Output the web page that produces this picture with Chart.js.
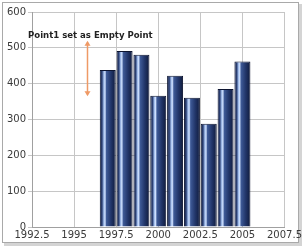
<!DOCTYPE html>
<html>
<head>
<meta charset="utf-8">
<script src="https://cdn.jsdelivr.net/npm/chart.js@4/dist/chart.umd.min.js"></script>
<style>
  html, body { margin:0; padding:0; background:#fff; }
  canvas { display:block; }
</style>
</head>
<body>
<canvas id="chart" width="304" height="248"></canvas>
<script>
// years and values (1996 is the "empty point")
const years = [1996, 1997, 1998, 1999, 2000, 2001, 2002, 2003, 2004, 2005];
const values = [null, 438, 491, 481, 366, 422, 361, 288, 385, 462];
const xTicks = [1992.5, 1995, 1997.5, 2000, 2002.5, 2005, 2007.5];
const yTicks = [0, 100, 200, 300, 400, 500, 600];
const note = 'Point1 set as Empty Point';

const FONT = 'DejaVu Sans';

// horizontal gradient for each bar, built from the x scale
function barFill(ctx){
  const chart = ctx.chart;
  const sx = chart.scales.x;
  if(!sx || !ctx.raw) return '#1f3266';
  const l = sx.getPixelForValue(ctx.raw.x - 0.475);
  const r = sx.getPixelForValue(ctx.raw.x + 0.475);
  if(!isFinite(l) || !isFinite(r)) return '#1f3266';
  const g = chart.ctx.createLinearGradient(l, 0, r, 0);
  g.addColorStop(0, '#17244a');
  g.addColorStop(0.14, '#2a3f74');
  g.addColorStop(0.26, '#a6c2f0');
  g.addColorStop(0.33, '#cfe0fd');
  g.addColorStop(0.42, '#3e5a97');
  g.addColorStop(0.7, '#22366a');
  g.addColorStop(1, '#0f1a3a');
  return g;
}

// frame around the whole chart
const framePlugin = {
  id: 'frame',
  beforeDraw(chart){
    const c = chart.ctx;
    c.save();
    c.fillStyle = '#fff';
    c.fillRect(0, 0, chart.width, chart.height);
    c.fillStyle = '#d4d4d4';
    c.fillRect(4, 4, 298, 242);
    c.fillStyle = '#fff';
    c.fillRect(2, 2, 297, 241);
    c.strokeStyle = '#a9a9a9';
    c.lineWidth = 1;
    c.strokeRect(2.5, 2.5, 296, 240);
    c.restore();
  }
};

// empty point note with double arrow
const notePlugin = {
  id: 'note',
  afterDraw(chart){
    const c = chart.ctx;
    const sx = chart.scales.x, sy = chart.scales.y;
    const ax = Math.round(sx.getPixelForValue(1995.75)) + 0.5;
    const top = sy.getPixelForValue(520), bot = sy.getPixelForValue(365);
    c.save();
    c.strokeStyle = '#ef9a66';
    c.fillStyle = '#ef9a66';
    c.lineWidth = 1.5;
    c.beginPath(); c.moveTo(ax, top + 2); c.lineTo(ax, bot - 2); c.stroke();
    c.beginPath(); c.moveTo(ax - 3, top + 5); c.lineTo(ax, top); c.lineTo(ax + 3, top + 5); c.closePath(); c.fill();
    c.beginPath(); c.moveTo(ax - 3, bot - 5); c.lineTo(ax, bot); c.lineTo(ax + 3, bot - 5); c.closePath(); c.fill();
    c.font = 'bold 9.5px "DejaVu Sans Condensed", ' + FONT;
    c.fillStyle = '#222';
    c.textAlign = 'left';
    c.textBaseline = 'middle';
    c.fillText(note, 28, 36);
    c.restore();
  }
};

new Chart(document.getElementById('chart'), {
  type: 'bar',
  data: {
    datasets: [{
      data: years.map((y, i) => ({ x: y, y: values[i] })),
      backgroundColor: barFill,
      borderColor: '#0c1430',
      borderWidth: 1,
      barPercentage: 0.95,
      categoryPercentage: 1
    }]
  },
  options: {
    responsive: false,
    animation: false,
    layout: { padding: { left: 0, top: 12, right: 19, bottom: 0 } },
    plugins: { legend: { display: false }, tooltip: { enabled: false } },
    scales: {
      x: {
        type: 'linear',
        offset: false,
        min: xTicks[0], max: xTicks[xTicks.length - 1],
        afterBuildTicks: s => { s.ticks = xTicks.map(v => ({ value: v })); },
        afterFit: s => { s.height = 21; },
        grid: { color: '#c6c6c6', offset: false, tickLength: 0, drawTicks: false },
        border: { color: '#a0a0a0' },
        ticks: { callback: v => String(v), color: '#3a3a3a', padding: 2, maxRotation: 0, autoSkip: false,
                 font: { family: FONT, size: 10 } }
      },
      y: {
        min: yTicks[0], max: yTicks[yTicks.length - 1],
        afterBuildTicks: s => { s.ticks = yTicks.map(v => ({ value: v })); },
        afterFit: s => { s.width = 32; },
        grid: { color: '#c6c6c6', tickLength: 4 },
        border: { color: '#a0a0a0' },
        ticks: { color: '#3a3a3a', padding: 2, font: { family: FONT, size: 10 } }
      }
    }
  },
  plugins: [framePlugin, notePlugin]
});
</script>
</body>
</html>
